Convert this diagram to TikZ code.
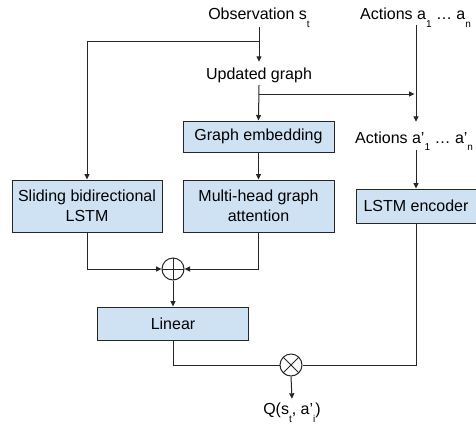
\documentclass[tikz,border=0pt]{standalone}
\usepackage{fontspec}
\setmainfont{Liberation Sans}
\usetikzlibrary{arrows.meta,calc}
\definecolor{boxfill}{HTML}{CFE2F3}
\definecolor{linec}{HTML}{262626}
\newcommand{\mysubx}[1]{\raisebox{-7.5pt}{\fontsize{10}{10}\selectfont #1}}
\begin{document}
\begin{tikzpicture}[x=1pt,y=-1pt,
  every node/.style={font=\fontsize{16}{20.5}\selectfont, text=black},
  box/.style={draw=linec, fill=boxfill, line width=1pt, align=center, inner sep=0pt},
  lbl/.style={inner sep=0pt, text height=11.5pt, text depth=0pt, anchor=base},
  conn/.style={draw=linec, line width=1pt},
  arr/.style={conn, -{Triangle[length=5.5pt,width=5pt]}},
  opplus/.style={circle, draw=linec, line width=1pt, minimum size=22pt, inner sep=0pt,
    path picture={\draw[linec,line width=1pt]
      (path picture bounding box.north) -- (path picture bounding box.south)
      (path picture bounding box.west) -- (path picture bounding box.east);}},
  optimes/.style={circle, draw=linec, line width=1pt, minimum size=22pt, inner sep=0pt,
    path picture={\draw[linec,line width=1pt]
      (path picture bounding box.north west) -- (path picture bounding box.south east)
      (path picture bounding box.south west) -- (path picture bounding box.north east);}}
]
\useasboundingbox (0,0) rectangle (476,424);

% text labels
\node[lbl] (obs) at (259,19.5) {Observation s\mysubx{t}};
\node[lbl, anchor=base west] (act) at (360,19.5) {Actions a\mysubx{1} … a\mysubx{n}};
\node[lbl] (ug) at (259,79.5) {Updated graph};
\node[lbl, anchor=base west] (act2) at (355,143) {Actions a’\mysubx{1} … a’\mysubx{n}};
\node[lbl] (Q) at (292,414.5) {Q(s\mysubx{t}, a’\mysubx{i})};

% boxes
\node[box, minimum width=151, minimum height=31] (ge) at (258.5,136.5) {Graph embedding};
\node[box, minimum width=151, minimum height=52] (mha) at (258.5,206) {Multi-head graph\\attention};
\node[box, minimum width=150, minimum height=52] (slide) at (87,206) {Sliding bidirectional\\LSTM};
\node[box, minimum width=120, minimum height=34] (enc) at (416,206) {LSTM encoder};
\node[box, minimum width=151, minimum height=33] (lin) at (173,323.5) {Linear};

% operators
\node[opplus] (plus) at (173,269) {};
\node[optimes] (ot) at (291,365) {};

% junctions
\coordinate (j1) at (259,41);
\coordinate (j2) at (259,94);

% connectors
\draw[arr] ($(obs.south)+(0,7.5)$) -- ($(ug.north)+(0,-6)$);
\draw[arr] (j1) -| (slide.north);
\draw[arr] ($(ug.south)+(0,5.5)$) -- (ge.north);
\draw[arr, shorten >=1.5pt] (j2) -- (j2 -| enc.north);
\draw[arr] ($(act.south -| enc.north)+(0,5.5)$) -- ($(act2.north -| enc.north)+(0,-9.5)$);
\draw[arr] ($(act2.south -| enc.north)+(0,7)$) -- (enc.north);
\draw[arr] (ge.south) -- (mha.north);
\draw[arr] (slide.south) |- (plus.west);
\draw[arr] (mha.south) |- (plus.east);
\draw[arr] (plus.south) -- (lin.north);
\draw[conn] (lin.south) |- (ot.west);
\draw[conn] (enc.south) |- (ot.east);
\draw[arr] (ot.south) -- ($(Q.north)+(0,-4)$);
\end{tikzpicture}
\end{document}
